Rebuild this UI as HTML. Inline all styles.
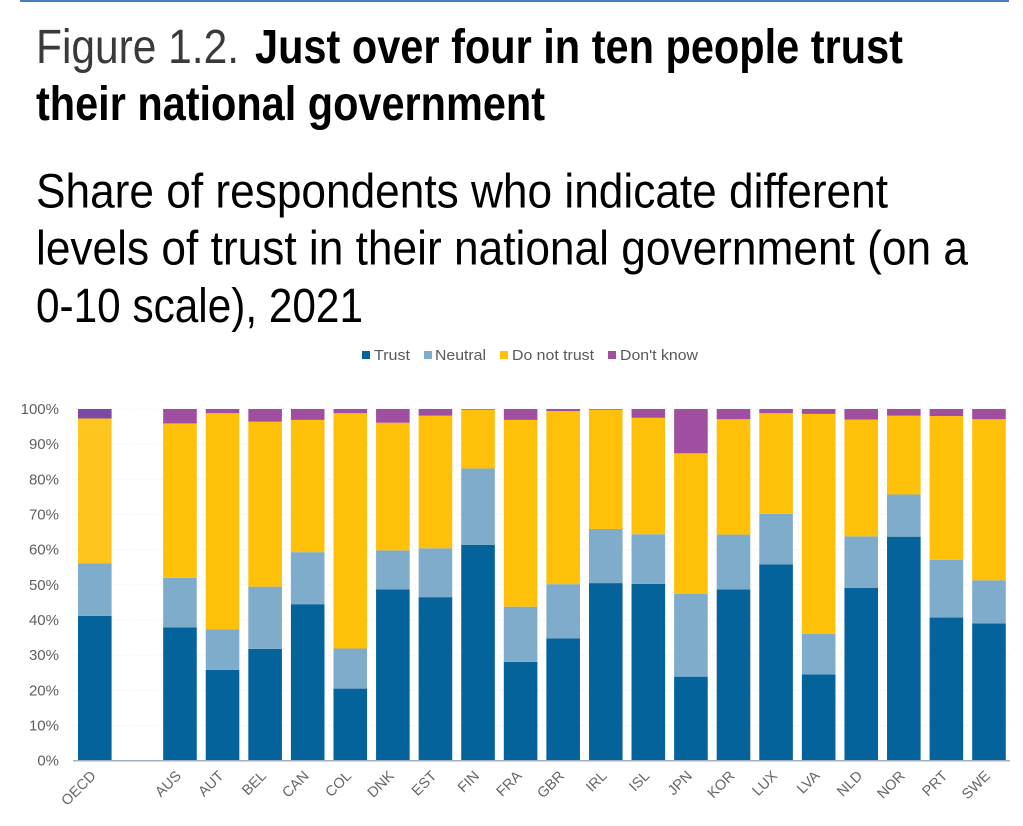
<!DOCTYPE html>
<html lang="en">
<head>
<meta charset="utf-8">
<title>Figure 1.2. Just over four in ten people trust their national government</title>
<style>
html,body{margin:0;padding:0;background:#fff;width:1023px;height:826px;overflow:hidden}
svg{display:block}
text{font-family:"Liberation Sans",sans-serif}
.h{font-size:48px;fill:#000}
.hl{font-size:48px;fill:#3a3a3a}
.tick{font-size:15px;fill:#5f5f5f}
.xtick{font-size:14.5px;fill:#666}
.leg{font-size:15px;fill:#595959}
</style>
</head>
<body>
<svg id="chart" xmlns="http://www.w3.org/2000/svg" width="1023" height="826" viewBox="0 0 1023 826">
  <rect x="20" y="0" width="989" height="2" fill="#4a7ebb"/>
  <g>
    <text class="hl" x="36" y="63" textLength="203" lengthAdjust="spacingAndGlyphs">Figure 1.2.</text>
    <text class="h" x="255" y="63" font-weight="700" textLength="648" lengthAdjust="spacingAndGlyphs">Just over four in ten people trust</text>
    <text class="h" x="36" y="120" font-weight="700" textLength="509" lengthAdjust="spacingAndGlyphs">their national government</text>
  </g>
  <g>
    <text class="h" x="36" y="207.5" textLength="852" lengthAdjust="spacingAndGlyphs">Share of respondents who indicate different</text>
    <text class="h" x="36" y="264.5" textLength="932" lengthAdjust="spacingAndGlyphs">levels of trust in their national government (on a</text>
    <text class="h" x="36" y="322" textLength="327" lengthAdjust="spacingAndGlyphs">0-10 scale), 2021</text>
  </g>
  <g id="legend"></g>
  <g id="grid"></g>
  <g id="yaxis"></g>
  <g id="bars"></g>
  <g id="xaxis"></g>
</svg>
<script>
const categories = ["OECD","","AUS","AUT","BEL","CAN","COL","DNK","EST","FIN","FRA","GBR","IRL","ISL","JPN","KOR","LUX","LVA","NLD","NOR","PRT","SWE"];
const trust      = [41.2,0,37.9,25.8,31.8,44.5,20.5,48.7,46.5,61.4,28.1,34.8,50.5,50.3,23.9,48.7,55.8,24.5,49.1,63.7,40.7,39.0];
const neutral    = [14.9,0,14.1,11.5,17.7,14.8,11.4,11.1,13.9,21.7,15.7,15.4,15.4,14.1,23.5,15.6,14.4,11.6,14.7,12.0,16.4,12.3];
const doNotTrust = [41.2,0,43.9,61.5,46.9,37.6,66.9,36.3,37.7,16.7,53.1,49.2,33.9,33.1,40.0,32.8,28.6,62.5,33.2,22.4,40.9,45.8];
const dontKnow   = [2.7,0,4.1,1.2,3.6,3.1,1.2,3.9,1.9,0.2,3.1,0.6,0.2,2.5,12.6,2.9,1.2,1.4,3.0,1.9,2.0,2.9];
const seriesNames = ["Trust","Neutral","Do not trust","Don't know"];
const yTicks = [0,10,20,30,40,50,60,70,80,90,100];

const NS = "http://www.w3.org/2000/svg";
const plot = {left:73, right:1010, top:409, bottom:760.7, firstBarX:78, band:42.58, barW:33.6};
const colors = ["#05639c","#7facca","#ffc00a","#a04fa0"];
const oecdColors = ["#05639c","#7facca","#ffc51f","#7c4aa6"];
const series = [trust, neutral, doNotTrust, dontKnow];
const legendX = [[362,374,36],[424,435,51],[500,512,82],[608,620,78]];

function yScale(v){ return plot.bottom - (v/100)*(plot.bottom-plot.top); }
function xScale(i){ return plot.firstBarX + i*plot.band; }
function make(tag, attrs, parent){
  const el = document.createElementNS(NS, tag);
  for (const k in attrs) el.setAttribute(k, attrs[k]);
  parent.appendChild(el);
  return el;
}

const gridG = document.getElementById("grid");
const yG = document.getElementById("yaxis");
yTicks.forEach(function(t){
  if (t > 0) {
    const line = make("line",{x1:plot.left,x2:plot.right,y1:yScale(t),y2:yScale(t),stroke:"#ececec","stroke-width":1,"stroke-dasharray":"1 2"},gridG);
    
    
  }
  const lab = make("text",{x:59,y:yScale(t)+5,"text-anchor":"end","class":"tick"},yG);
  
  
  lab.textContent = t + "%";
});

const barsG = document.getElementById("bars");
categories.forEach(function(c,i){
  if (!c) return;
  let acc = 0;
  series.forEach(function(s,k){
    const v = s[i];
    const r = make("rect",{x:xScale(i),y:yScale(acc+v),width:plot.barW,height:yScale(acc)-yScale(acc+v),fill:(c==="OECD"?oecdColors:colors)[k]},barsG);
    
    
    acc += v;
  });
});

const xG = document.getElementById("xaxis");
const axisLine = make("line",{x1:plot.left,x2:plot.right,y1:plot.bottom,y2:plot.bottom,stroke:"#a3aec4","stroke-width":1.5},xG);


categories.forEach(function(c,i){
  if (!c) return;
  const cx = xScale(i)+plot.barW/2+2;
  const cy = plot.bottom+16;
  const t = make("text",{x:cx,y:cy,"text-anchor":"end","class":"xtick",transform:"rotate(-45 "+cx+" "+cy+")"},xG);
  
  
  t.textContent = c;
});

const legG = document.getElementById("legend");
seriesNames.forEach(function(n,k){
  const sw = make("rect",{x:legendX[k][0],y:351,width:8,height:8,fill:colors[k]},legG);
  
  
  const t = make("text",{x:legendX[k][1],y:360,"class":"leg",textLength:legendX[k][2],lengthAdjust:"spacingAndGlyphs"},legG);
  
  
  t.textContent = n;
});
</script>
</body>
</html>
